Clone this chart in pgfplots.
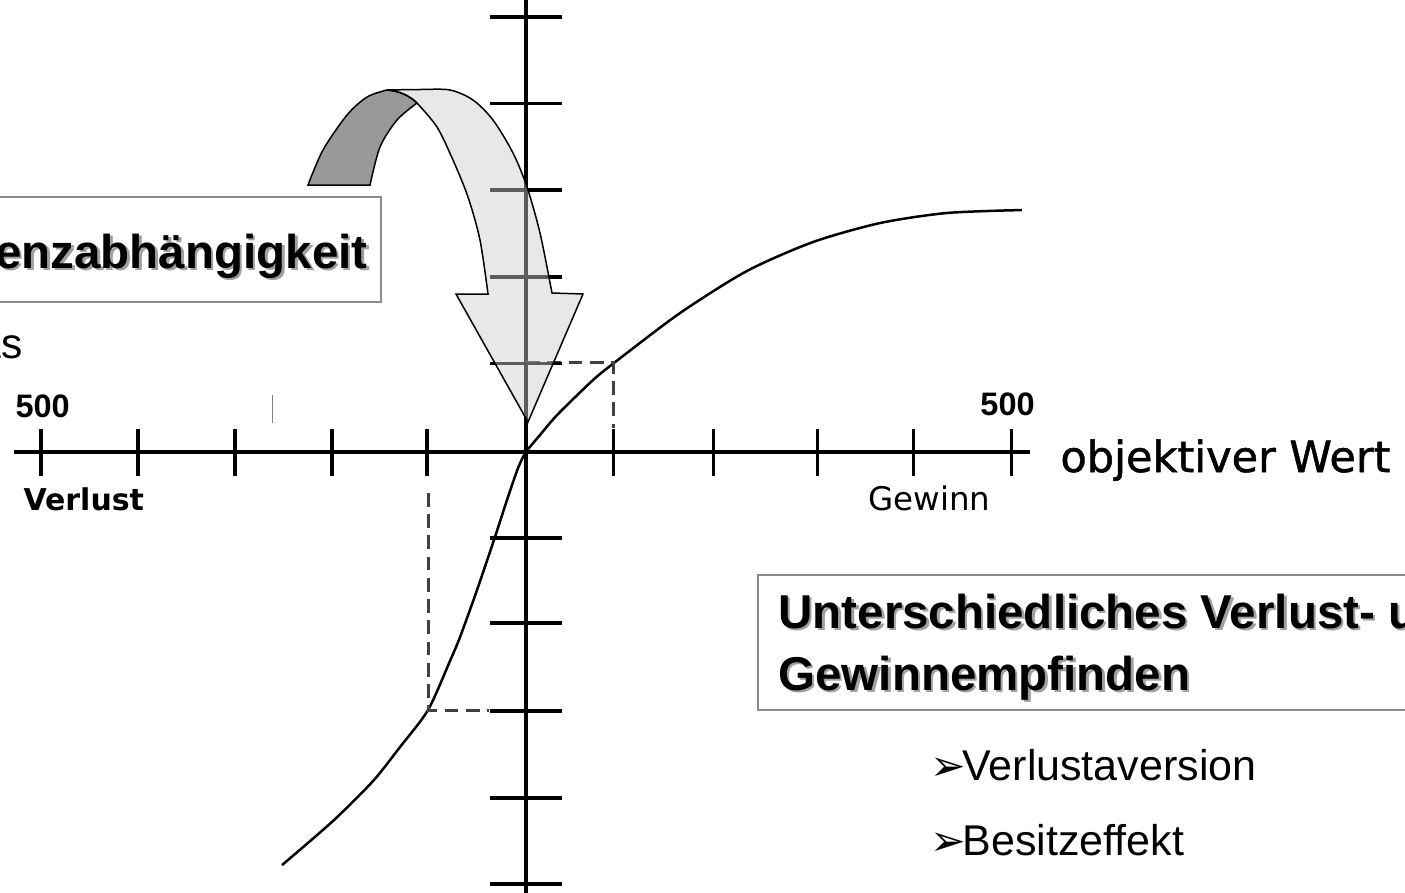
\documentclass[border=0pt]{standalone}
\usepackage{fontspec}
\setmainfont{Liberation Sans}
\newfontfamily\dejavu{DejaVu Sans}
\newfontfamily\dejavubold[FakeBold=1.2]{DejaVu Sans}
\usepackage{pgfplots}
\pgfplotsset{compat=1.18}

\definecolor{boxgray}{HTML}{8C8C8C}
\definecolor{shadowgray}{HTML}{A0A0A0}
\definecolor{bandgray}{HTML}{999999}
\definecolor{lightband}{HTML}{CCCCCC}
\definecolor{dashgray}{HTML}{404040}

\begin{document}
\begin{tikzpicture}
% page = 1405 x 892 px at 0.4pt per px
\useasboundingbox (0,0) rectangle (562pt,-356.8pt);
\clip (0,0) rectangle (562pt,-356.8pt);

\begin{axis}[
    at={(5.536pt,-364.604pt)}, anchor=south west,
    x=0.388pt, y=0.3468pt,
    xmin=-528, xmax=520,
    ymin=-530, ymax=530,
    axis lines=middle,
    axis line style={-, line width=1.5pt},
    xtick=\empty, ytick=\empty,
    clip=false,
]
% value function
\addplot[black, smooth, tension=0.45, line width=1pt] coordinates {
    (-251.5,-476.4) (-199.0,-425.6) (-157.7,-379.5) (-129.9,-340.3)
    (-101.0,-297.6) (-78.4,-241.1) (-68.0,-213.4) (-50.5,-159.2)
    (-32.0,-98.0) (-19.6,-55.4) (-8.2,-18.5) (0,0)
    (14.4,19.6) (33.0,43.8) (69.1,83.0) (90.7,102.7) (158.8,160.3)
    (227.8,208.8) (295.9,242.2) (365.0,264.1) (434.0,275.7) (511.3,279.1)
};
% helper lines
\addplot[dashgray, line width=1.2pt, dash pattern=on 5.5pt off 3pt]
    coordinates {(0,102.7) (90.7,102.7) (90.7,28)};
\addplot[dashgray, line width=1.2pt, dash pattern=on 5.5pt off 3pt]
    coordinates {(-101,-47) (-101,-297.6) (-38,-297.6)};
% ticks
\addplot[black, only marks, mark=|, mark size=9.4pt, mark options={line width=1.5pt}]
    coordinates {(-500,0) (-400,0) (-300,0) (-200,0) (-102,0)};
\addplot[black, only marks, mark=|, mark size=9.4pt, mark options={line width=1.2pt}]
    coordinates {(90.7,0) (193,0) (300,0) (399,0) (500,0)};
\addplot[black, only marks, mark=-, mark size=14.4pt, mark options={line width=1.5pt}]
    coordinates {(0,502) (0,402) (0,302) (0,202) (0,102)
                 (0,-99) (0,-197) (0,-299) (0,-399) (0,-498)};
\end{axis}

\begin{scope}[x=0.4pt, y=-0.4pt]
% curved arrow: dark back side
\filldraw[fill=bandgray, draw=black, line width=0.6pt]
    plot[smooth] coordinates {(308,185) (323,150) (347,115) (367,97) (387,90)}
    .. controls (400,91) and (410,96) .. (417,103)
    -- plot[smooth] coordinates {(417,103) (397,120) (380,147) (370,185)}
    -- cycle;
% curved arrow: light front side
\filldraw[fill=lightband, fill opacity=0.45, draw=black, line width=0.6pt]
    plot[smooth] coordinates {(387,90) (420,89.5) (450,90) (473,100) (493,120)
        (513,153) (527,187) (540,233) (552,293)}
    -- (583,294) -- (528,422) -- (456,294) -- (488,294)
    -- plot[smooth] coordinates {(488,294) (480,240) (468,197) (453,160) (437,127) (417,103)}
    .. controls (410,96) and (400,91) .. (387,90)
    -- cycle;

\draw[gray, line width=0.4pt] (273,395) -- (273,423);

% boxes
\draw[boxgray, line width=1pt, fill=white] (-10,197) rectangle (381,302);
\draw[boxgray, line width=1pt, fill=white] (758,575) rectangle (1420,710);

\node[anchor=base east, inner sep=0, shadowgray] at (370.5,270.5)
    {\bfseries\fontsize{19}{23}\selectfont Referenzabhängigkeit};
\node[anchor=base east, inner sep=0] at (368,268)
    {\bfseries\fontsize{19}{23}\selectfont Referenzabhängigkeit};

\node[anchor=base west, inner sep=0, shadowgray] at (780.5,630.5)
    {\bfseries\fontsize{19}{23}\selectfont Unterschiedliches Verlust- und};
\node[anchor=base west, inner sep=0] at (778,628)
    {\bfseries\fontsize{19}{23}\selectfont Unterschiedliches Verlust- und};
\node[anchor=base west, inner sep=0, shadowgray] at (780.5,692.5)
    {\bfseries\fontsize{19}{23}\selectfont Gewinnempfinden};
\node[anchor=base west, inner sep=0] at (778,690)
    {\bfseries\fontsize{19}{23}\selectfont Gewinnempfinden};

\node[anchor=base east, inner sep=0] at (23,358)
    {\fontsize{17}{20}\selectfont Bias};

% axis texts
\node[anchor=base west, inner sep=0] at (15,417)
    {\bfseries\fontsize{13}{15}\selectfont 500};
\node[anchor=base west, inner sep=0] at (980,415)
    {\bfseries\fontsize{13}{15}\selectfont 500};
\node[anchor=base west, inner sep=0] at (23,510)
    {\dejavu\bfseries\fontsize{12}{14}\selectfont Verlust};
\node[anchor=base west, inner sep=0] at (868,510)
    {\dejavu\fontsize{13}{15}\selectfont Gewinn};
\node[anchor=base west, inner sep=0] at (1060,472)
    {\dejavubold\fontsize{17.2}{20}\selectfont objektiver Wert};

% bullets
\node[anchor=base west, inner sep=0] at (930,780)
    {\dejavu\fontsize{17}{20}\selectfont ➢};
\node[anchor=base west, inner sep=0] at (962,780)
    {\fontsize{17.2}{20}\selectfont Verlustaversion};
\node[anchor=base west, inner sep=0] at (930,855)
    {\dejavu\fontsize{17}{20}\selectfont ➢};
\node[anchor=base west, inner sep=0] at (962,855)
    {\fontsize{17.2}{20}\selectfont Besitzeffekt};
\end{scope}
\end{tikzpicture}
\end{document}
